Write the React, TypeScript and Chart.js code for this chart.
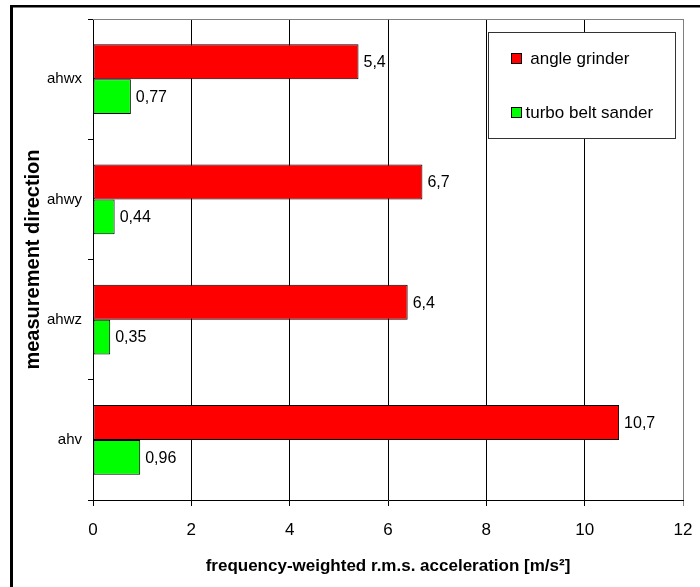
import React, { useEffect, useRef } from 'react';
import { Chart, registerables } from 'chart.js';

Chart.register(...registerables);

const categories = ['ahwx', 'ahwy', 'ahwz', 'ahv'];
const seriesNames = [' angle grinder', 'turbo belt sander'];
const angleGrinder = [5.4, 6.7, 6.4, 10.7];
const turboBeltSander = [0.77, 0.44, 0.35, 0.96];
const xTickValues = [0, 2, 4, 6, 8, 10, 12];
const xTitle = 'frequency-weighted r.m.s. acceleration [m/s²]';
const yTitle = 'measurement direction';

const FONT = "Arial, 'Liberation Sans', sans-serif";

const framePlugin = {
  id: 'frame',
  beforeDraw(chart: any) {
    const { ctx, width, height } = chart;
    ctx.save();
    ctx.fillStyle = '#ffffff';
    ctx.fillRect(0, 0, width, height);
    ctx.restore();
  },
  afterDraw(chart: any) {
    const { ctx, chartArea, width, height } = chart;
    ctx.save();
    // outer border (left & top)
    ctx.fillStyle = '#000';
    ctx.fillRect(10, 5, 3, height - 5);
    ctx.fillRect(10, 5, width - 10, 2.5);
    // plot top border
    ctx.strokeStyle = '#808080';
    ctx.lineWidth = 1;
    ctx.beginPath();
    ctx.moveTo(chartArea.left, Math.round(chartArea.top) + 0.5);
    ctx.lineTo(chartArea.right + 0.5, Math.round(chartArea.top) + 0.5);
    ctx.stroke();

    // legend box
    const bx = Math.round(chartArea.right - 195) + 0.5;
    const by = Math.round(chartArea.top + 13) + 0.5;
    const bw = 187;
    const bh = 106;
    ctx.fillStyle = '#fff';
    ctx.fillRect(bx, by, bw, bh);
    ctx.strokeStyle = '#333';
    ctx.strokeRect(bx, by, bw, bh);
    const rowsY = [by + 26, by + 80];
    chart.data.datasets.forEach((ds: any, i: number) => {
      const cy = rowsY[i];
      ctx.fillStyle = ds.backgroundColor;
      ctx.fillRect(bx + 23, cy - 5, 10, 10);
      ctx.strokeStyle = '#000';
      ctx.strokeRect(bx + 23, cy - 5, 10, 10);
      ctx.fillStyle = '#000';
      ctx.font = `17px ${FONT}`;
      ctx.textBaseline = 'middle';
      ctx.textAlign = 'left';
      ctx.fillText(ds.label, bx + 37, cy + 1);
    });
    ctx.restore();
  },
  afterDatasetsDraw(chart: any) {
    const { ctx } = chart;
    ctx.save();
    ctx.font = `16px ${FONT}`;
    ctx.fillStyle = '#000';
    ctx.textBaseline = 'middle';
    ctx.textAlign = 'left';
    chart.data.datasets.forEach((ds: any, di: number) => {
      const meta = chart.getDatasetMeta(di);
      meta.data.forEach((el: any, i: number) => {
        const v = ds.data[i];
        ctx.fillText(String(v).replace('.', ','), el.x + 5, el.y + 1);
      });
    });
    ctx.restore();
  },
};

export default function App() {
  const ref = useRef<HTMLCanvasElement>(null);
  useEffect(() => {
    if (!ref.current) return;
    const chart = new Chart(ref.current, {
      type: 'bar',
      data: {
        labels: categories,
        datasets: [
          {
            label: seriesNames[0],
            data: angleGrinder,
            backgroundColor: '#ff0000',
            borderColor: '#000',
            borderWidth: 1,
            borderSkipped: false,
            categoryPercentage: 0.58,
            barPercentage: 1.0,
          },
          {
            label: seriesNames[1],
            data: turboBeltSander,
            backgroundColor: '#00ff00',
            borderColor: '#000',
            borderWidth: 1,
            borderSkipped: false,
            categoryPercentage: 0.58,
            barPercentage: 1.0,
          },
        ],
      },
      options: {
        indexAxis: 'y',
        responsive: false,
        animation: false,
        devicePixelRatio: 1,
        layout: { padding: { left: 0, top: 19, right: 17, bottom: 0 } },
        plugins: {
          legend: { display: false },
          tooltip: { enabled: false },
        },
        scales: {
          x: {
            type: 'linear',
            min: 0,
            max: 12,
            afterBuildTicks: (scale: any) => {
              scale.ticks = xTickValues.map((v) => ({ value: v }));
            },
            afterFit: (scale: any) => {
              scale.height = 87;
              scale.paddingRight = 0;
              scale.paddingLeft = 0;
            },
            ticks: {
              color: '#000',
              font: { family: FONT, size: 17 },
              padding: 14,
            },
            grid: {
              color: (c: any) => (c.tick && c.tick.value === 12 ? '#808080' : '#000'),
              lineWidth: 1,
              tickLength: 6,
            },
            border: { color: '#000', width: 1 },
            title: {
              display: true,
              text: xTitle,
              color: '#000',
              font: { family: FONT, size: 17, weight: 'bold' },
              padding: { top: 0, bottom: 10 },
            },
          },
          y: {
            type: 'category',
            afterFit: (scale: any) => {
              scale.width = 93;
              scale.paddingTop = 0;
              scale.paddingBottom = 0;
            },
            ticks: {
              color: '#000',
              font: { family: FONT, size: 15 },
              padding: 6,
            },
            grid: {
              drawOnChartArea: false,
              drawTicks: true,
              tickLength: 5,
              color: '#000',
            },
            border: { color: '#000', width: 1 },
            title: {
              display: true,
              text: yTitle,
              color: '#000',
              font: { family: FONT, size: 20, weight: 'bold' },
              padding: { top: 21, bottom: 0 },
            },
          },
        },
      },
      plugins: [framePlugin],
    } as any);
    return () => chart.destroy();
  }, []);
  return (
    <div style={{ position: 'absolute', left: 0, top: 0, width: 700, height: 587 }}>
      <canvas ref={ref} width={700} height={587} style={{ display: 'block' }} />
    </div>
  );
}
